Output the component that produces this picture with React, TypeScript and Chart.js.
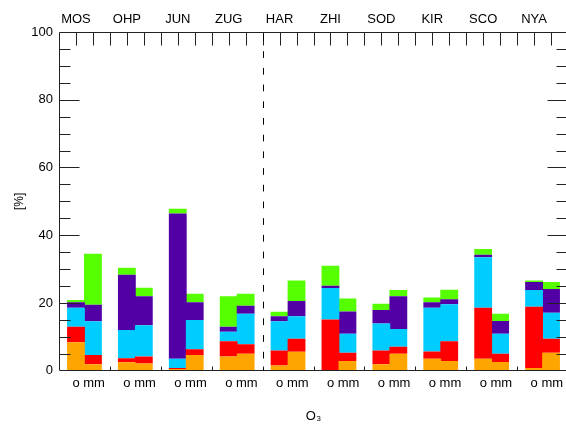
import React, { useEffect, useRef } from "react";
import { Chart, registerables } from "chart.js";

Chart.register(...registerables);

// ---- data ----
const stations = ["MOS", "OHP", "JUN", "ZUG", "HAR", "ZHI", "SOD", "KIR", "SCO", "NYA"];
const pairLabel = "o mm";
const yTickStep = 20;

const orangeO = [8.4, 2.5, 0.5, 4.2, 1.5, 0.0, 1.9, 3.5, 3.5, 0.8];
const orangeMm = [1.9, 2.1, 4.6, 5.0, 5.6, 2.9, 5.0, 2.9, 2.6, 5.3];
const redO = [4.6, 1.2, 0.3, 4.5, 4.5, 15.1, 4.1, 2.2, 15.1, 18.1];
const redMm = [2.7, 2.1, 1.7, 2.8, 3.8, 2.4, 2.1, 5.8, 2.4, 4.1];
const cyanO = [5.6, 8.3, 2.7, 2.8, 8.6, 9.3, 7.9, 12.9, 14.9, 4.9];
const cyanMm = [10.0, 9.2, 8.7, 9.0, 6.7, 5.6, 5.2, 10.9, 5.9, 7.7];
const purpleO = [1.6, 16.3, 42.9, 1.5, 1.5, 0.7, 4.0, 1.6, 0.7, 2.4];
const purpleMm = [4.9, 8.6, 5.2, 2.4, 4.5, 6.6, 9.7, 1.5, 3.8, 7.0];
const greenO = [0.7, 2.1, 1.4, 9.0, 1.3, 5.9, 1.9, 1.4, 1.7, 0.4];
const greenMm = [15.0, 2.5, 2.5, 3.5, 6.0, 3.8, 1.8, 2.8, 2.1, 2.1];

// ---- layout / style ----
const SLOT = 3; // slots per station: o, mm, gap
const DIVIDER_AFTER = 4; // dashed line after the 4th station
const FONT = "'Liberation Sans', Arial, 'DejaVu Sans', sans-serif";
const TEXT = "#000";

const series = [
  { label: "orange", color: "#FFA500", o: orangeO, mm: orangeMm },
  { label: "red", color: "#FF0000", o: redO, mm: redMm },
  { label: "cyan", color: "#00CCFF", o: cyanO, mm: cyanMm },
  { label: "purple", color: "#5200A5", o: purpleO, mm: purpleMm },
  { label: "green", color: "#55FF00", o: greenO, mm: greenMm },
];

const framePlugin = {
  id: "frame",
  afterDatasetsDraw(chart: any) {
    const { ctx, chartArea, scales } = chart;
    const xs = scales.x;
    const ys = scales.y;
    const L = Math.round(chartArea.left) + 0.5;
    const R = Math.round(chartArea.right) - 0.5;
    const T = Math.round(chartArea.top) + 0.5;
    const B = Math.round(chartArea.bottom) - 0.5;
    ctx.save();
    ctx.strokeStyle = "#222";
    ctx.lineWidth = 1;
    ctx.beginPath();
    ctx.moveTo(L, B);
    ctx.lineTo(L, T);
    ctx.lineTo(R, T);
    ctx.lineTo(R, B);
    ctx.lineTo(L, B);
    // y ticks (left + right)
    for (let v = 5; v < 100; v += 5) {
      const py = Math.round(ys.getPixelForValue(v)) + 0.5;
      const len = v % yTickStep === 0 ? 20 : 11;
      ctx.moveTo(L, py);
      ctx.lineTo(L + len, py);
      ctx.moveTo(R, py);
      ctx.lineTo(R - len, py);
    }
    // top ticks every slot
    for (let v = 1; v < stations.length * SLOT; v++) {
      const px = Math.round(xs.getPixelForValue(v)) + 0.5;
      ctx.moveTo(px, T);
      ctx.lineTo(px, T + 13);
    }
    // bottom ticks between stations
    for (let v = SLOT; v < stations.length * SLOT; v += SLOT) {
      const px = Math.round(xs.getPixelForValue(v)) + 0.5;
      ctx.moveTo(px, B);
      ctx.lineTo(px, B - 4);
    }
    ctx.stroke();
    // dashed divider
    const dx = Math.round(xs.getPixelForValue(DIVIDER_AFTER * SLOT)) + 0.5;
    ctx.beginPath();
    ctx.setLineDash([6.7, 10]);
    ctx.lineDashOffset = -1;
    ctx.strokeStyle = "#000";
    ctx.moveTo(dx, T + 1);
    ctx.lineTo(dx, B);
    ctx.stroke();
    ctx.restore();
  },
};

export default function App() {
  const ref = useRef<HTMLCanvasElement>(null);
  useEffect(() => {
    const font = { family: FONT, size: 13 };
    const chart = new Chart(ref.current as HTMLCanvasElement, {
      type: "bar",
      data: {
        datasets: series.map((s) => ({
          label: s.label,
          backgroundColor: s.color,
          borderWidth: 0,
          categoryPercentage: 1,
          barPercentage: 1.05,
          data: stations.flatMap((_, i) => [
            { x: i * SLOT + 1, y: s.o[i] },
            { x: i * SLOT + 2, y: s.mm[i] },
          ]),
        })),
      },
      options: {
        responsive: false,
        animation: false,
        devicePixelRatio: 1,
        layout: { padding: 0 },
        plugins: {
          legend: { display: false },
          tooltip: { enabled: false },
        },
        scales: {
          x: {
            type: "linear",
            position: "bottom",
            min: 0,
            max: stations.length * SLOT,
            stacked: true,
            offset: false,
            grid: { display: false, drawTicks: false, offset: false },
            border: { display: false },
            afterBuildTicks: (s: any) => {
              s.ticks = stations.map((_, i) => ({ value: i * SLOT + 1.75 }));
            },
            ticks: {
              autoSkip: false,
              maxRotation: 0,
              minRotation: 0,
              padding: 4.9,
              color: TEXT,
              font,
              callback: () => pairLabel,
            },
            title: {
              display: true,
              text: "O₃",
              color: TEXT,
              font,
              padding: { top: 0, bottom: 1.7 },
            },
            afterFit: (s: any) => {
              s.height = 55.3;
            },
          },
          xTop: {
            type: "linear",
            axis: "x",
            position: "top",
            min: 0,
            max: stations.length * SLOT,
            offset: false,
            grid: { display: false, drawTicks: false },
            border: { display: false },
            afterBuildTicks: (s: any) => {
              s.ticks = stations.map((_, i) => ({ value: i * SLOT + 1 }));
            },
            ticks: {
              autoSkip: false,
              maxRotation: 0,
              minRotation: 0,
              padding: 4.5,
              color: TEXT,
              font,
              callback: (_v: any, i: number) => stations[i],
            },
            afterFit: (s: any) => {
              s.height = 32;
            },
          },
          y: {
            type: "linear",
            position: "left",
            min: 0,
            max: 100,
            stacked: true,
            grid: { display: false, drawTicks: false },
            border: { display: false },
            ticks: { stepSize: yTickStep, padding: 6, color: TEXT, font },
            title: {
              display: true,
              text: "[%]",
              color: TEXT,
              font: { family: FONT, size: 12 },
              padding: { top: 12.6, bottom: 0 },
            },
            afterFit: (s: any) => {
              s.width = 59;
            },
          },
        },
      } as any,
      plugins: [framePlugin],
    });
    return () => chart.destroy();
  }, []);
  return (
    <div
      style={{
        position: "absolute",
        left: 0,
        top: 0,
        width: 566,
        height: 426,
        overflow: "hidden",
        background: "#fff",
      }}
    >
      <canvas ref={ref} width={568} height={426} style={{ display: "block", width: 568, height: 426 }} />
    </div>
  );
}
